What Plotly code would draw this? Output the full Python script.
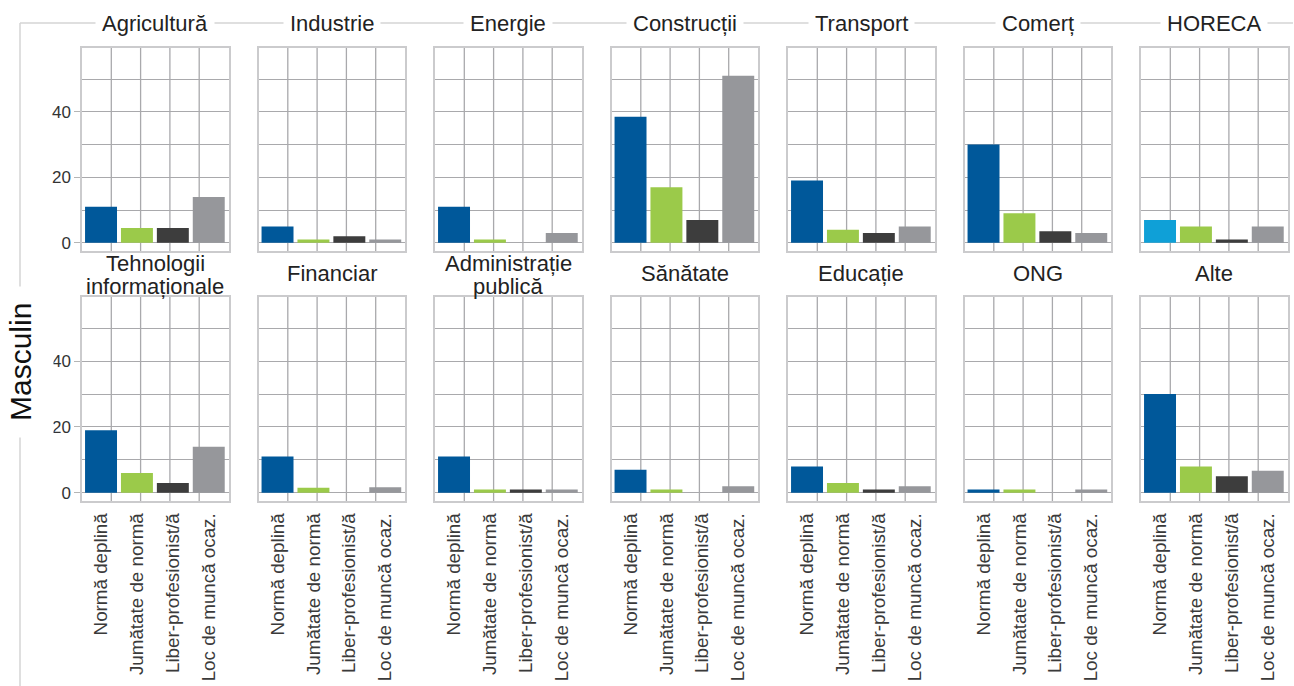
import plotly.graph_objects as go

W, H = 1294, 686

sectors = ["Agricultură", "Industrie", "Energie", "Construcții", "Transport", "Comerț", "HORECA",
           "Tehnologii informaționale", "Financiar", "Administrație publică", "Sănătate",
           "Educație", "ONG", "Alte"]
sector_titles = [["Agricultură"], ["Industrie"], ["Energie"], ["Construcții"], ["Transport"], ["Comerț"], ["HORECA"],
                 ["Tehnologii", "informaționale"], ["Financiar"], ["Administrație", "publică"], ["Sănătate"],
                 ["Educație"], ["ONG"], ["Alte"]]
categories = ["Normă deplină", "Jumătate de normă", "Liber-profesionist/ă", "Loc de muncă ocaz."]

norma_deplina = [11, 5, 11, 38.5, 19, 30, 7, 19, 11, 11, 7, 8, 1, 30]
jumatate_norma = [4.5, 1, 1, 17, 4, 9, 5, 6, 1.5, 1, 1, 3, 1, 8]
liber_prof = [4.5, 2, 0, 7, 3, 3.5, 1, 3, 0, 1, 0, 1, 0, 5]
loc_ocaz = [14, 1, 3, 51, 5, 3, 5, 14, 1.7, 1, 2, 2, 1, 6.7]

yticks = [0, 20, 40]
yminor = [10, 30, 50]
facet_label = "Masculin"

C_BLUE = "#00589a"
C_LBLUE = "#0fa0d7"
C_GREEN = "#9bca4a"
C_DARK = "#3d3d3d"
C_GRAY = "#96979b"
GRID = "#a9a9ac"
BORDER = "#cbcbcd"
FRAME = "#d4d4d4"
FONT = "Liberation Sans"

fig = go.Figure()
layout = {}
shapes = []
annotations = []

col_left0, col_pitch, pan_w = 82, 176.5, 146.5
rows_px = [(48, 251), (297, 501)]

for i, name in enumerate(sectors):
    r, c = divmod(i, 7)
    ax = "" if i == 0 else str(i + 1)
    vals = [norma_deplina[i], jumatate_norma[i], liber_prof[i], loc_ocaz[i]]
    colors = [C_LBLUE if name == "HORECA" else C_BLUE, C_GREEN, C_DARK, C_GRAY]
    fig.add_trace(go.Bar(x=categories, y=vals, marker=dict(color=colors, line=dict(width=0)),
                         width=0.89, xaxis="x" + ax, yaxis="y" + ax, showlegend=False,
                         hovertemplate="%{x}: %{y}<extra>" + name + "</extra>"))
    x0 = col_left0 + c * col_pitch
    x1 = x0 + pan_w
    y0p, y1p = rows_px[r]
    layout["xaxis" + ax] = dict(
        domain=[x0 / W, x1 / W], anchor="y" + ax, range=[-0.53, 3.55], automargin=False,
        showgrid=False, zeroline=False, showline=True, mirror=True,
        linecolor=BORDER, linewidth=1.5, ticks="",
        showticklabels=(r == 1), tickangle=-90, ticklabelstandoff=3,
        tickfont=dict(family=FONT, size=18.8, color="#3a3a3a"), fixedrange=True)
    layout["yaxis" + ax] = dict(
        domain=[1 - y1p / H, 1 - y0p / H], anchor="x" + ax, range=[-2.5, 59.5], automargin=False,
        tickvals=yticks, showgrid=True, gridcolor=GRID, gridwidth=1.3,
        zeroline=False, showline=True, mirror=True, linecolor=BORDER, linewidth=1.5,
        ticks="outside" if c == 0 else "", ticklen=6, tickcolor="#b5b5b5", tickwidth=1.3,
        showticklabels=(c == 0), tickfont=dict(family=FONT, size=17, color="#333333"),
        minor=dict(tickvals=yminor, showgrid=True, gridcolor=GRID, gridwidth=1.3, ticks=""),
        fixedrange=True)
    for f in (0.2, 0.4, 0.6, 0.8):
        shapes.append(dict(type="line", xref="x" + ax + " domain", yref="y" + ax + " domain",
                           x0=f, x1=f, y0=0, y1=1, layer="below",
                           line=dict(color=GRID, width=1.3)))
    # facet titles
    cx = (x0 + x1) / 2 / W
    lines = sector_titles[i]
    if r == 0:
        ys = [24]
    else:
        ys = [274] if len(lines) == 1 else [263, 286]
    for txt, yp in zip(lines, ys):
        annotations.append(dict(text=txt, x=cx, y=1 - yp / H, xref="paper", yref="paper",
                                xanchor="center", yanchor="middle", showarrow=False,
                                font=dict(family=FONT, size=22, color="#222222"),
                                bgcolor="white" if r == 0 else None,
                                borderpad=6 if r == 0 else 0))

# frame lines (top and left)
shapes.append(dict(type="line", xref="paper", yref="paper", x0=20 / W, x1=1293 / W,
                   y0=1 - 23 / H, y1=1 - 23 / H, line=dict(color=FRAME, width=1.5), layer="below"))
shapes.append(dict(type="line", xref="paper", yref="paper", x0=20 / W, x1=20 / W,
                   y0=1 - 23 / H, y1=0, line=dict(color=FRAME, width=1.5), layer="below"))

annotations.append(dict(text=facet_label, x=20 / W, y=1 - 362 / H, xref="paper", yref="paper",
                        xanchor="center", yanchor="middle", showarrow=False, textangle=-90,
                        font=dict(family=FONT, size=30, color="#111111"),
                        bgcolor="white", borderpad=16))

fig.update_layout(**layout)
fig.update_layout(width=W, height=H, margin=dict(l=0, r=0, t=0, b=0, autoexpand=False),
                  paper_bgcolor="white", plot_bgcolor="white",
                  shapes=shapes, annotations=annotations, bargap=0.11)

fig.write_html("out.html", config={"displayModeBar": False},
               post_script="document.body.style.margin='0';document.body.style.overflow='hidden';")
